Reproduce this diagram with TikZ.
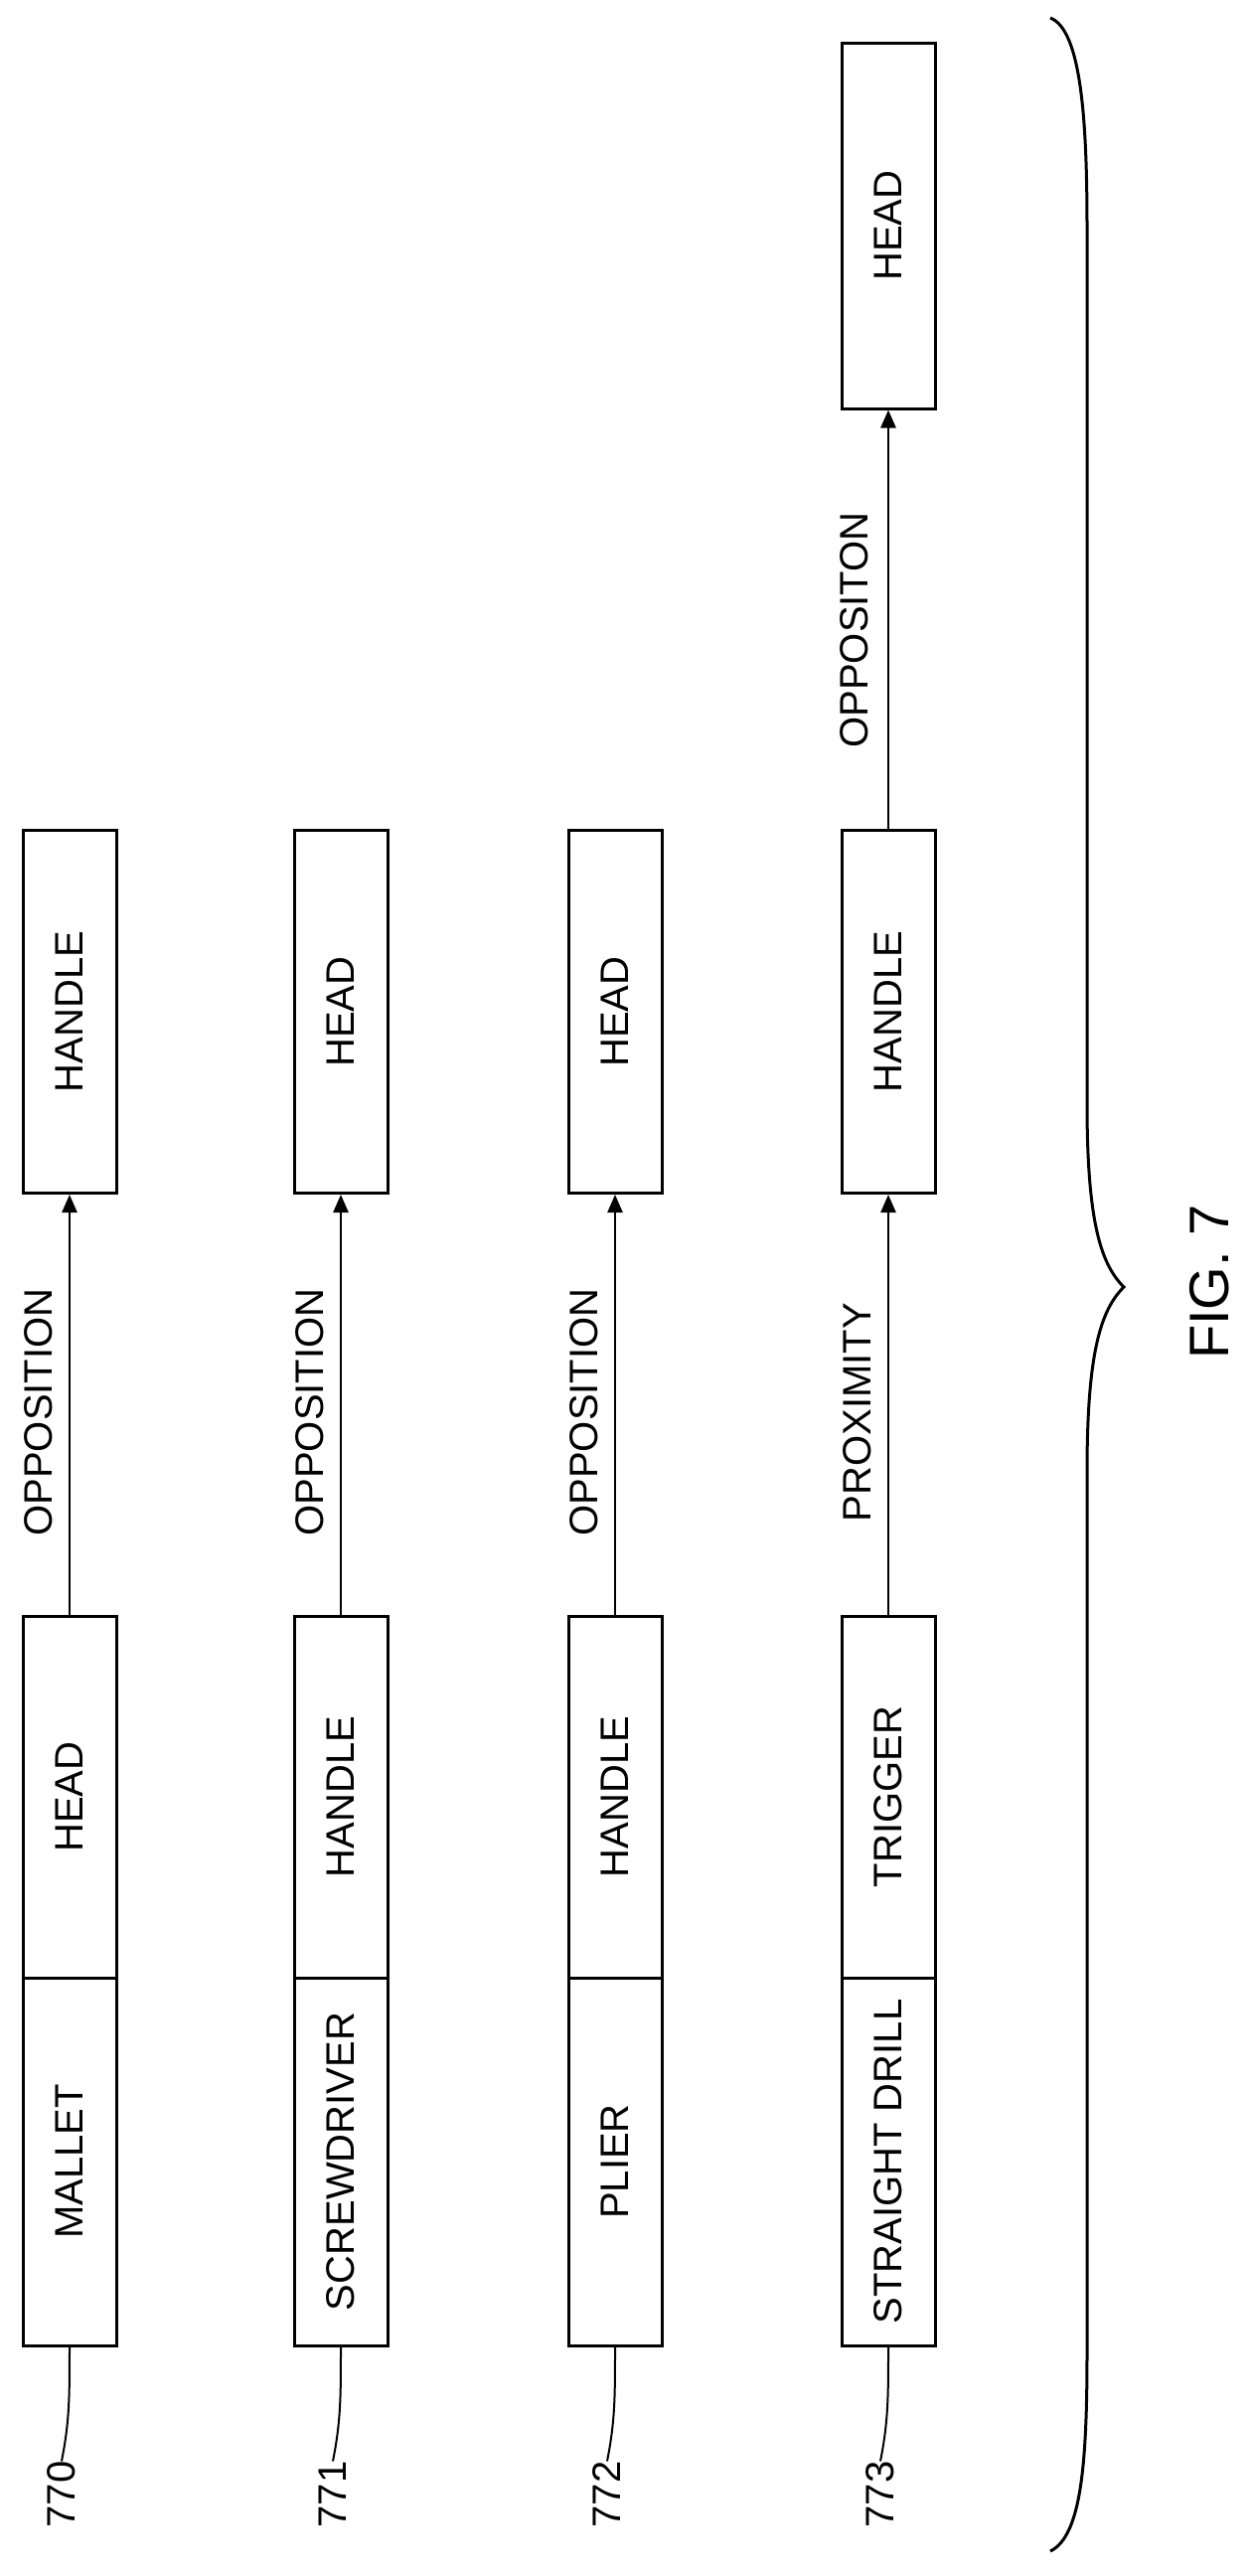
\documentclass[tikz,border=0pt]{standalone}
\usepackage{fontspec}
\setmainfont{Liberation Sans}
\usetikzlibrary{arrows.meta}

\begin{document}
\begin{tikzpicture}[x=1pt,y=-1pt,>={Triangle[length=18pt,width=15pt]}]
        \tikzstyle{part}=[rectangle,draw,line width=3pt,rotate=90,minimum height=94pt,inner sep=0pt,font=\fontsize{40}{48}\selectfont]
        \tikzstyle{rel}=[rotate=90,inner sep=0pt,font=\fontsize{40}{48}\selectfont]
        \tikzstyle{ref}=[rotate=90,inner sep=0pt,font=\fontsize{40}{48}\selectfont]
        \tikzstyle{link}=[line width=2.5pt,->]
        \useasboundingbox (0,0) rectangle (1258,2592);

        % 770
        \node [part,minimum width=370pt] (mallet) at (70,2175) {MALLET};
        \node [part,minimum width=364pt] (mallethead) at (70,1808) {HEAD};
        \node [part,minimum width=365pt] (mallethandle) at (70,1018) {HANDLE};
        \node [rel] (oppmallet) at (39,1421) {OPPOSITION};
        \node [ref] (n770) at (62,2510) {770};
        \draw [link] (mallethead) -- (mallethandle);
        \draw [line width=2pt] (mallet.west) .. controls +(0,50) and +(8,-40) .. (n770.east);

        % 771
        \node [part,minimum width=370pt] (driver) at (343,2175) {SCREWDRIVER};
        \node [part,minimum width=364pt] (driverhandle) at (343,1808) {HANDLE};
        \node [part,minimum width=365pt] (driverhead) at (343,1018) {HEAD};
        \node [rel] (oppdriver) at (312,1421) {OPPOSITION};
        \node [ref] (n771) at (335,2510) {771};
        \draw [link] (driverhandle) -- (driverhead);
        \draw [line width=2pt] (driver.west) .. controls +(0,50) and +(8,-40) .. (n771.east);

        % 772
        \node [part,minimum width=370pt] (plier) at (619,2175) {PLIER};
        \node [part,minimum width=364pt] (plierhandle) at (619,1808) {HANDLE};
        \node [part,minimum width=365pt] (plierhead) at (619,1018) {HEAD};
        \node [rel] (oppplier) at (588,1421) {OPPOSITION};
        \node [ref] (n772) at (611,2510) {772};
        \draw [link] (plierhandle) -- (plierhead);
        \draw [line width=2pt] (plier.west) .. controls +(0,50) and +(8,-40) .. (n772.east);

        % 773
        \node [part,minimum width=370pt] (drill) at (894,2175) {STRAIGHT DRILL};
        \node [part,minimum width=364pt] (drilltrigger) at (894,1808) {TRIGGER};
        \node [part,minimum width=365pt] (drillhandle) at (894,1018) {HANDLE};
        \node [part,minimum width=368pt] (drillhead) at (894,227) {HEAD};
        \node [rel] (proxdrill) at (863,1421) {PROXIMITY};
        \node [rel] (oppdrill) at (860,634) {OPPOSITON};
        \node [ref] (n773) at (886,2510) {773};
        \draw [link] (drilltrigger) -- (drillhandle);
        \draw [link] (drillhandle) -- (drillhead);
        \draw [line width=2pt] (drill.west) .. controls +(0,50) and +(8,-40) .. (n773.east);

        % brace
        \draw [line width=3pt] (1057,18) .. controls (1088,30) and (1094,120) .. (1094,230)
            -- (1094,1110) .. controls (1094,1230) and (1108,1272) .. (1131,1295)
            .. controls (1108,1318) and (1094,1360) .. (1094,1481)
            -- (1094,2367) .. controls (1094,2480) and (1088,2552) .. (1057,2567);
        \node [rotate=90,font=\fontsize{56}{64}\selectfont] (fig) at (1217,1290) {FIG. 7};
\end{tikzpicture}
\end{document}
